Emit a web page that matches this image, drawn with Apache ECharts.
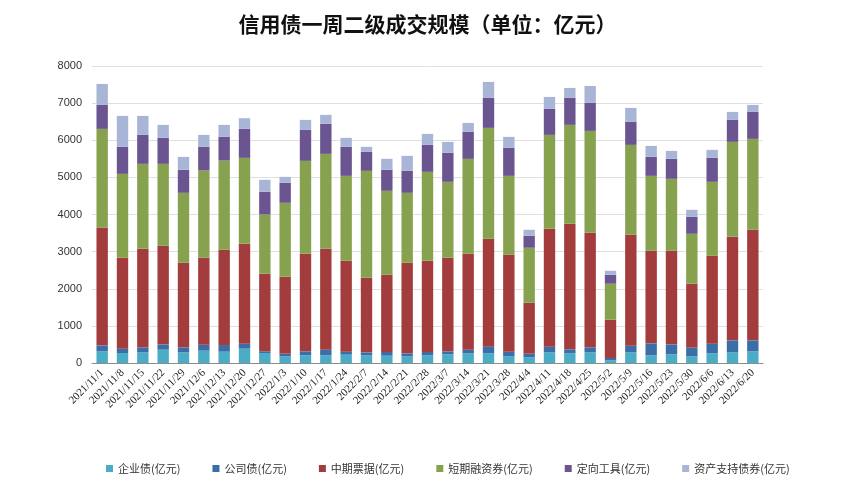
<!DOCTYPE html>
<html><head><meta charset="utf-8">
<script src="https://cdn.jsdelivr.net/npm/echarts@6/dist/echarts.min.js"></script>
<style>html,body{margin:0;padding:0;background:#fff}#c{width:855px;height:499px}</style>
</head><body><div id="c"></div>
<script>
const categories = ['2021/11/1','2021/11/8','2021/11/15','2021/11/22','2021/11/29','2021/12/6','2021/12/13','2021/12/20','2021/12/27','2022/1/3','2022/1/10','2022/1/17','2022/1/24','2022/2/7','2022/2/14','2022/2/21','2022/2/28','2022/3/7','2022/3/14','2022/3/21','2022/3/28','2022/4/4','2022/4/11','2022/4/18','2022/4/25','2022/5/2','2022/5/9','2022/5/16','2022/5/23','2022/5/30','2022/6/6','2022/6/13','2022/6/20'];
const seriesNames = ['企业债(亿元)','公司债(亿元)','中期票据(亿元)','短期融资券(亿元)','定向工具(亿元)','资产支持债券(亿元)'];
const qiyezhai   = [314,269,287,359,287,332,305,386,269,179,206,206,224,206,197,179,206,233,260,260,179,152,287,260,287,72,287,206,233,179,260,287,314];
const gongsizhai = [161,117,135,143,135,161,179,134,45,72,108,153,81,81,99,81,90,81,99,180,126,99,153,108,135,63,179,323,269,234,260,323,296];
const zhongqi    = [3176,2449,2655,2655,2278,2342,2566,2691,2090,2072,2628,2718,2449,2009,2081,2440,2458,2521,2583,2906,2610,1373,3175,3381,3085,1031,2987,2494,2521,1722,2368,2790,2978];
const duanrong   = [2655,2260,2287,2207,1884,2350,2404,2315,1597,1992,2503,2556,2287,2880,2261,1884,2395,2045,2557,2987,2126,1480,2529,2665,2745,969,2422,2018,1938,1345,1992,2556,2449];
const dingxiang  = [646,727,780,700,619,637,637,780,610,538,834,808,781,511,565,592,726,780,726,807,754,323,700,726,754,242,619,511,538,458,646,592,726];
const zichan     = [565,834,512,350,349,322,323,287,323,161,269,242,242,135,296,403,296,296,242,431,296,161,323,269,457,108,377,296,215,188,215,215,189];
const yTicks = ['0','1000','2000','3000','4000','5000','6000','7000','8000'];

const colors = ['#4BACC6','#3B6DA6','#A33C3C','#87A24E','#6A5591','#A9B5D6'];
const dataSets = [qiyezhai,gongsizhai,zhongqi,duanrong,dingxiang,zichan];

const chart = echarts.init(document.getElementById('c'));
chart.setOption({
  backgroundColor:'#fff',
  animation:false,
  title:{text:'信用债一周二级成交规模（单位：亿元）',left:'center',top:9,
    textStyle:{fontFamily:'Noto Sans CJK SC',fontWeight:'bold',fontSize:21,color:'#111'}},
  color:colors,
  legend:{top:458,left:101,itemWidth:7,itemHeight:7,itemGap:32,icon:'rect',
    textStyle:{fontFamily:'Noto Sans CJK SC',fontSize:11,color:'#333'},
    data:seriesNames},
  grid:{left:92,right:92,top:66,bottom:136},
  xAxis:{type:'category',data:categories,
    axisLine:{lineStyle:{color:'#8c8c8c'}},axisTick:{show:false},
    axisLabel:{rotate:45,interval:0,fontFamily:'Liberation Serif',fontSize:11,color:'#222',margin:8}},
  yAxis:{type:'value',min:0,max:8000,interval:1000,
    axisLine:{show:false},axisTick:{show:false},
    splitLine:{lineStyle:{color:'#e0e0e0'}},
    axisLabel:{fontFamily:'Liberation Sans',fontSize:11,color:'#333',margin:10,
      formatter:(v)=>yTicks[Math.round(v/1000)]}},
  series: seriesNames.map((n,i)=>({name:n,type:'bar',stack:'s',barWidth:'56%',data:dataSets[i]}))
});
</script></body></html>
